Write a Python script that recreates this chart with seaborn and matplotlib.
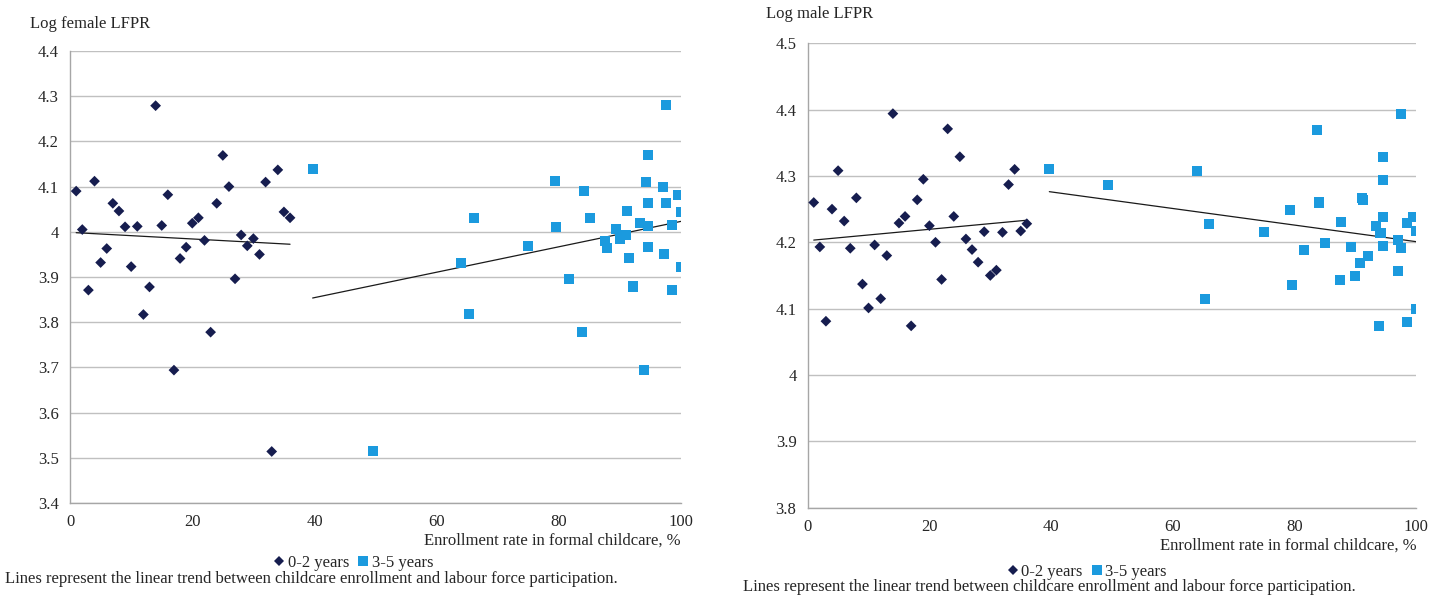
import numpy as np
import pandas as pd
import matplotlib
matplotlib.use('Agg')
import matplotlib.pyplot as plt
import seaborn as sns

#%%
# data

# Log female LFPR
f_young_x = [1, 2, 3, 4, 5, 6, 7, 8, 9, 10, 11, 12, 13, 14, 15, 16, 17, 18,
             19, 20, 21, 22, 23, 24, 25, 26, 27, 28, 29, 30, 31, 32, 33, 34, 35, 36]
f_young_y = [4.090, 4.005, 3.871, 4.112, 3.932, 3.963, 4.063, 4.046, 4.011, 3.923,
             4.012, 3.817, 3.878, 4.279, 4.014, 4.082, 3.694, 3.941, 3.966, 4.019,
             4.031, 3.981, 3.778, 4.063, 4.169, 4.100, 3.896, 3.993, 3.969, 3.985,
             3.950, 4.110, 3.514, 4.137, 4.044, 4.031]
f_old_x = [39.7, 66.1, 64.0, 75.0, 79.3, 79.6, 81.7, 84.1, 85.1, 87.6, 87.8, 89.4,
           90.0, 91.0, 91.2, 91.4, 92.1, 93.3, 94.3, 94.6, 94.6, 94.6, 94.6, 97.1,
           97.5, 97.5, 97.2, 98.5, 98.5, 99.5, 100.0, 100.0, 65.3, 83.8, 94.0, 49.5]
f_old_y = [4.138, 4.031, 3.931, 3.968, 4.112, 4.011, 3.896, 4.091, 4.031, 3.980,
           3.964, 4.006, 3.985, 3.994, 4.047, 3.942, 3.879, 4.020, 4.111, 4.170,
           4.063, 4.012, 3.967, 4.100, 4.280, 4.063, 3.950, 4.014, 3.871, 4.082,
           4.044, 3.923, 3.818, 3.779, 3.694, 3.514]

# Log male LFPR
m_young_x = [1, 2, 3, 4, 5, 6, 7, 8, 9, 10, 11, 12, 13, 14, 15, 16, 17, 18,
             19, 20, 21, 22, 23, 24, 25, 26, 27, 28, 29, 30, 31, 32, 33, 34, 35, 36]
m_young_y = [4.260, 4.193, 4.081, 4.250, 4.308, 4.232, 4.191, 4.267, 4.137, 4.101,
             4.196, 4.115, 4.180, 4.394, 4.229, 4.239, 4.074, 4.264, 4.295, 4.225,
             4.200, 4.144, 4.371, 4.239, 4.329, 4.205, 4.189, 4.170, 4.216, 4.150,
             4.158, 4.215, 4.287, 4.310, 4.217, 4.228]
m_old_x = [39.7, 49.4, 63.9, 66.0, 65.2, 74.9, 79.2, 79.5, 81.6, 83.7, 84.0, 85.0,
           87.5, 87.6, 89.2, 89.9, 90.8, 91.1, 91.3, 92.0, 93.3, 93.9, 94.1, 94.5,
           94.5, 94.5, 94.5, 97.0, 97.0, 97.4, 97.4, 98.4, 98.4, 99.4, 100.0, 100.0]
m_old_y = [4.310, 4.287, 4.307, 4.228, 4.114, 4.216, 4.249, 4.136, 4.188, 4.370,
           4.260, 4.199, 4.143, 4.231, 4.193, 4.149, 4.169, 4.267, 4.264, 4.180,
           4.224, 4.074, 4.214, 4.329, 4.294, 4.238, 4.195, 4.204, 4.157, 4.394,
           4.191, 4.229, 4.080, 4.238, 4.217, 4.100]

groups = ['0-2 years', '3-5 years']
dark = '#161d4f'
light = '#1b9ade'
grid_col = '#c0c0c0'

#%%
def armar_tabla(x_young, y_young, x_old, y_old):
    t1 = pd.DataFrame({'x': x_young, 'y': y_young, 'grupo': groups[0]})
    t2 = pd.DataFrame({'x': x_old, 'y': y_old, 'grupo': groups[1]})
    return pd.concat([t1, t2], ignore_index=True)

female = armar_tabla(f_young_x, f_young_y, f_old_x, f_old_y)
male = armar_tabla(m_young_x, m_young_y, m_old_x, m_old_y)

#%%
sns.set_style('white')
plt.rcParams['font.family'] = ['Liberation Serif', 'DejaVu Serif']
plt.rcParams['font.size'] = 12

fig = plt.figure(figsize=(14.3, 5.95), dpi=100)
ax1 = fig.add_axes([0.049, 0.1546, 0.4273, 0.7597])
ax2 = fig.add_axes([0.5648, 0.1469, 0.4257, 0.7803])


def dibujar(ax, datos, ylim, yticks, ylabel, lab_xy, leg_xy):
    sns.scatterplot(data=datos, x='x', y='y', hue='grupo', style='grupo',
                    palette={groups[0]: dark, groups[1]: light},
                    markers={groups[0]: 'D', groups[1]: 's'},
                    size='grupo', sizes={groups[0]: 30, groups[1]: 52},
                    linewidth=0, ax=ax, zorder=3)
    for g in groups:
        sub = datos[datos.grupo == g]
        sns.regplot(data=sub, x='x', y='y', scatter=False, ci=None,
                    truncate=True, ax=ax,
                    line_kws={'color': '#1a1a1a', 'lw': 0.9, 'zorder': 2})
    ax.set_xlim(0, 100)
    ax.set_ylim(*ylim)
    ax.set_xticks([0, 20, 40, 60, 80, 100])
    ax.set_yticks(yticks)
    ax.set_yticklabels(['4' if v == 4 else '%.1f' % v for v in yticks])
    ax.yaxis.grid(True, color=grid_col, lw=1)
    ax.xaxis.grid(False)
    ax.set_axisbelow(True)
    for s in ['top', 'right']:
        ax.spines[s].set_visible(False)
    for s in ['left', 'bottom']:
        ax.spines[s].set_color('#a6a6a6')
        ax.spines[s].set_linewidth(1)
    ax.tick_params(axis='both', direction='out', length=5, width=1,
                   color='#a6a6a6', labelcolor='#262626', labelsize=12, pad=3)
    ax.set_xlabel('Enrollment rate in formal childcare, %', loc='right',
                  fontsize=12, color='#262626', labelpad=2)
    ax.set_ylabel(ylabel, rotation=0, ha='left', va='center',
                  fontsize=12, color='#262626')
    ax.yaxis.set_label_coords(*lab_xy)
    sns.move_legend(ax, 'center', bbox_to_anchor=leg_xy, ncol=2,
                    frameon=False, title=None, fontsize=12,
                    handlelength=0.5, handletextpad=0.25, columnspacing=0.6,
                    markerscale=0.9, borderaxespad=0)


dibujar(ax1, female, (3.4, 4.4), [3.4, 3.5, 3.6, 3.7, 3.8, 3.9, 4.0, 4.1, 4.2, 4.3, 4.4],
        'Log female LFPR', (-0.0655, 1.06), (0.465, -0.133))
dibujar(ax2, male, (3.8, 4.5), [3.8, 3.9, 4.0, 4.1, 4.2, 4.3, 4.4, 4.5],
        'Log male LFPR', (-0.0685, 1.063), (0.46, -0.138))

nota = 'Lines represent the linear trend between childcare enrollment and labour force participation.'
fig.text(5 / 1430, 1 - 579 / 595, nota, ha='left', va='center', fontsize=12, color='#262626')
fig.text(743 / 1430, 1 - 587 / 595, nota, ha='left', va='center', fontsize=12, color='#262626')

plt.savefig('out.png', format='png', dpi=100)
